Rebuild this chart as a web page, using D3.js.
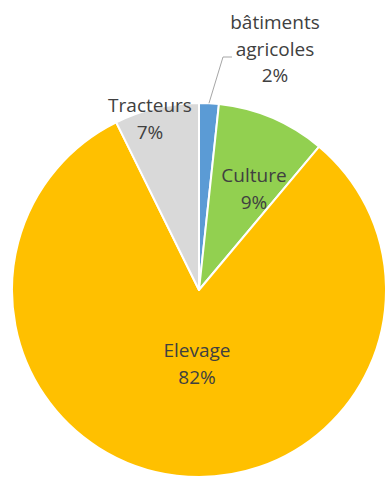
<!DOCTYPE html>
<html>
<head>
<meta charset="utf-8">
<script src="https://cdn.jsdelivr.net/npm/d3@7"></script>
<style>
  html, body { margin: 0; padding: 0; background: #fff; }
  svg { display: block; }
  text { font-family: "Open Sans", sans-serif; font-size: 19px; fill: #404040; }
</style>
</head>
<body>
<svg id="chart" width="387" height="478"></svg>
<script>
// Data
const categories = ["bâtiments agricoles", "Culture", "Elevage", "Tracteurs"];
const labelLines = [["bâtiments", "agricoles"], ["Culture"], ["Elevage"], ["Tracteurs"]];
const values = [1.7, 9.4, 81.6, 7.3];
const colors = ["#5B9BD5", "#92D050", "#FFC000", "#D9D9D9"];

const svg = d3.select("#chart");
const cx = 199, cy = 290, r = 187;
const g = svg.append("g").attr("transform", `translate(${cx},${cy})`);

const data = categories.map((c, i) => ({ name: c, lines: labelLines[i], value: values[i], color: colors[i] }));
const total = d3.sum(values);

const pie = d3.pie().value(d => d.value).sort(null);
const arcs = pie(data);
const arc = d3.arc().innerRadius(0).outerRadius(r);

g.selectAll("path.slice")
  .data(arcs)
  .join("path")
  .attr("class", "slice")
  .attr("d", arc)
  .attr("fill", d => d.data.color)
  .attr("stroke", "#fff")
  .attr("stroke-width", 2)
  .attr("stroke-linejoin", "round");

// label layout (pixel positions relative to pie centre, first line baseline)
const labelPos = [
  { x: 76, y: -261 },
  { x: 55, y: -108 },
  { x: -2, y: 67 },
  { x: -49, y: -178 }
];
const lineH = 26.5;

arcs.forEach((a, i) => {
  const p = labelPos[i];
  const t = g.append("text").attr("text-anchor", "middle");
  const lines = a.data.lines.concat([Math.round(a.data.value / total * 100) + "%"]);
  lines.forEach((ln, k) => {
    t.append("tspan").attr("x", p.x).attr("y", p.y + k * lineH).text(ln);
  });
});

// leader line for the small slice
const a0 = arcs[0];
const mid = (a0.startAngle + a0.endAngle) / 2;
const ex = r * Math.sin(mid), ey = -r * Math.cos(mid);
g.append("polyline")
  .attr("points", `${ex},${ey} ${24},${-233} ${33},${-233}`)
  .attr("fill", "none")
  .attr("stroke", "#A6A6A6")
  .attr("stroke-width", 1);
</script>
</body>
</html>
